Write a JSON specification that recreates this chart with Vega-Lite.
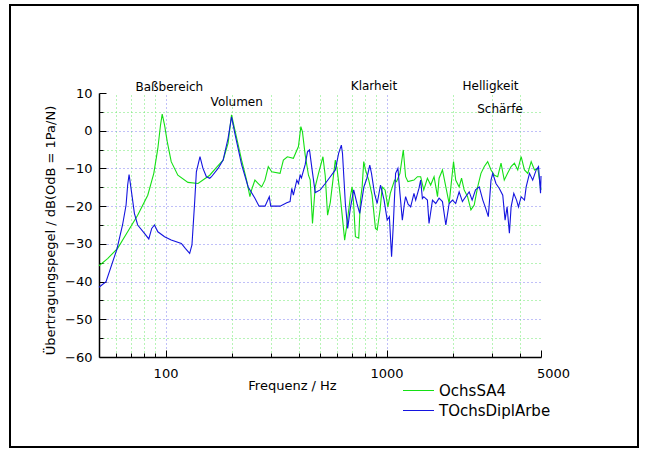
{
  "$schema": "https://vega.github.io/schema/vega-lite/v6.json",
  "width": 628,
  "height": 442,
  "autosize": {"type": "none"},
  "padding": {"left": 10, "top": 5, "right": 8, "bottom": 3},
  "background": "white",
  "config": {
    "view": {"stroke": "black", "strokeWidth": 2},
    "font": "DejaVu Sans",
    "axis": {"labelFont": "DejaVu Sans", "titleFont": "DejaVu Sans", "labelColor": "black", "titleColor": "black", "titleFontWeight": "normal", "domainColor": "black", "tickColor": "black"}
  },
  "datasets": {
    "curves": [
      {"f":50,"db":-35.8,"s":"OchsSA4"},{"f":54.7,"db":-33.9,"s":"OchsSA4"},{"f":60.7,"db":-31.2,"s":"OchsSA4"},{"f":67.4,"db":-26.8,"s":"OchsSA4"},{"f":74.8,"db":-22.4,"s":"OchsSA4"},{"f":83.1,"db":-17.1,"s":"OchsSA4"},{"f":88.5,"db":-11.3,"s":"OchsSA4"},{"f":92.3,"db":-4.7,"s":"OchsSA4"},{"f":94.9,"db":1.5,"s":"OchsSA4"},{"f":96.6,"db":4.4,"s":"OchsSA4"},{"f":99,"db":1.5,"s":"OchsSA4"},{"f":101.8,"db":-2.9,"s":"OchsSA4"},{"f":106.1,"db":-8.2,"s":"OchsSA4"},{"f":113.7,"db":-11.8,"s":"OchsSA4"},{"f":126.3,"db":-13.7,"s":"OchsSA4"},{"f":140.3,"db":-14.0,"s":"OchsSA4"},{"f":158.5,"db":-11.8,"s":"OchsSA4"},{"f":170.1,"db":-9.7,"s":"OchsSA4"},{"f":182.2,"db":-7.8,"s":"OchsSA4"},{"f":191.9,"db":-3.3,"s":"OchsSA4"},{"f":198.9,"db":4.2,"s":"OchsSA4"},{"f":205.9,"db":0.2,"s":"OchsSA4"},{"f":220.9,"db":-7.8,"s":"OchsSA4"},{"f":232.7,"db":-13.1,"s":"OchsSA4"},{"f":240.9,"db":-17.5,"s":"OchsSA4"},{"f":245.2,"db":-15.7,"s":"OchsSA4"},{"f":249.4,"db":-14.4,"s":"OchsSA4"},{"f":253.8,"db":-13.1,"s":"OchsSA4"},{"f":262.8,"db":-14.0,"s":"OchsSA4"},{"f":272.3,"db":-14.9,"s":"OchsSA4"},{"f":281.8,"db":-13.1,"s":"OchsSA4"},{"f":291.7,"db":-9.5,"s":"OchsSA4"},{"f":302.4,"db":-10.9,"s":"OchsSA4"},{"f":329.8,"db":-11.3,"s":"OchsSA4"},{"f":341.4,"db":-7.8,"s":"OchsSA4"},{"f":355.9,"db":-6.9,"s":"OchsSA4"},{"f":378.9,"db":-7.3,"s":"OchsSA4"},{"f":399.4,"db":-4.2,"s":"OchsSA4"},{"f":409.6,"db":1.1,"s":"OchsSA4"},{"f":416.5,"db":-0.3,"s":"OchsSA4"},{"f":428.4,"db":-6.4,"s":"OchsSA4"},{"f":443.5,"db":-11.8,"s":"OchsSA4"},{"f":451.4,"db":-13,"s":"OchsSA4"},{"f":462.4,"db":-24.6,"s":"OchsSA4"},{"f":475.7,"db":-14.9,"s":"OchsSA4"},{"f":492.4,"db":-11.3,"s":"OchsSA4"},{"f":515.6,"db":-6.9,"s":"OchsSA4"},{"f":528.1,"db":-12,"s":"OchsSA4"},{"f":541.1,"db":-22.4,"s":"OchsSA4"},{"f":556.6,"db":-19,"s":"OchsSA4"},{"f":586.5,"db":-7.8,"s":"OchsSA4"},{"f":597,"db":-10,"s":"OchsSA4"},{"f":618,"db":-17.5,"s":"OchsSA4"},{"f":639.6,"db":-26.3,"s":"OchsSA4"},{"f":646.4,"db":-29,"s":"OchsSA4"},{"f":662.9,"db":-24.6,"s":"OchsSA4"},{"f":686,"db":-17.5,"s":"OchsSA4"},{"f":698.5,"db":-14.9,"s":"OchsSA4"},{"f":710,"db":-19.5,"s":"OchsSA4"},{"f":723.1,"db":-28.1,"s":"OchsSA4"},{"f":748.5,"db":-28.5,"s":"OchsSA4"},{"f":761.9,"db":-18.4,"s":"OchsSA4"},{"f":775.5,"db":-14.9,"s":"OchsSA4"},{"f":788.7,"db":-8.2,"s":"OchsSA4"},{"f":803,"db":-10.4,"s":"OchsSA4"},{"f":831,"db":-13.1,"s":"OchsSA4"},{"f":860,"db":-17,"s":"OchsSA4"},{"f":891,"db":-25.9,"s":"OchsSA4"},{"f":907.3,"db":-26.3,"s":"OchsSA4"},{"f":935,"db":-21,"s":"OchsSA4"},{"f":956.1,"db":-14.9,"s":"OchsSA4"},{"f":985,"db":-15.7,"s":"OchsSA4"},{"f":1014,"db":-20.2,"s":"OchsSA4"},{"f":1040,"db":-16.6,"s":"OchsSA4"},{"f":1087,"db":-13.1,"s":"OchsSA4"},{"f":1110,"db":-13.5,"s":"OchsSA4"},{"f":1150,"db":-11.3,"s":"OchsSA4"},{"f":1191,"db":-5.1,"s":"OchsSA4"},{"f":1220,"db":-12.2,"s":"OchsSA4"},{"f":1250,"db":-13.5,"s":"OchsSA4"},{"f":1331,"db":-13.1,"s":"OchsSA4"},{"f":1380,"db":-12.2,"s":"OchsSA4"},{"f":1427,"db":-12.2,"s":"OchsSA4"},{"f":1474,"db":-15.7,"s":"OchsSA4"},{"f":1531,"db":-12.6,"s":"OchsSA4"},{"f":1584,"db":-14.4,"s":"OchsSA4"},{"f":1641,"db":-12.2,"s":"OchsSA4"},{"f":1701,"db":-17.5,"s":"OchsSA4"},{"f":1729,"db":-12.6,"s":"OchsSA4"},{"f":1791,"db":-10.4,"s":"OchsSA4"},{"f":1855,"db":-14.9,"s":"OchsSA4"},{"f":1920,"db":-19.3,"s":"OchsSA4"},{"f":2010,"db":-8.2,"s":"OchsSA4"},{"f":2056,"db":-13.1,"s":"OchsSA4"},{"f":2131,"db":-14.9,"s":"OchsSA4"},{"f":2185,"db":-12.6,"s":"OchsSA4"},{"f":2245,"db":-15.7,"s":"OchsSA4"},{"f":2327,"db":-17.5,"s":"OchsSA4"},{"f":2409,"db":-21,"s":"OchsSA4"},{"f":2493,"db":-19.7,"s":"OchsSA4"},{"f":2585,"db":-14.9,"s":"OchsSA4"},{"f":2675,"db":-11.3,"s":"OchsSA4"},{"f":2770,"db":-9.5,"s":"OchsSA4"},{"f":2869,"db":-8.2,"s":"OchsSA4"},{"f":2970,"db":-10.4,"s":"OchsSA4"},{"f":3077,"db":-11.8,"s":"OchsSA4"},{"f":3185,"db":-12.2,"s":"OchsSA4"},{"f":3297,"db":-8.6,"s":"OchsSA4"},{"f":3410,"db":-13.1,"s":"OchsSA4"},{"f":3530,"db":-11.3,"s":"OchsSA4"},{"f":3662,"db":-9.5,"s":"OchsSA4"},{"f":3790,"db":-8.6,"s":"OchsSA4"},{"f":3925,"db":-10.4,"s":"OchsSA4"},{"f":4066,"db":-6.9,"s":"OchsSA4"},{"f":4209,"db":-10.4,"s":"OchsSA4"},{"f":4357,"db":-11.3,"s":"OchsSA4"},{"f":4514,"db":-8.2,"s":"OchsSA4"},{"f":4672,"db":-10.4,"s":"OchsSA4"},{"f":4836,"db":-10,"s":"OchsSA4"},{"f":5000,"db":-15.7,"s":"OchsSA4"},
      {"f":50,"db":-41.5,"s":"TOchsDiplArbe"},{"f":53.8,"db":-40,"s":"TOchsDiplArbe"},{"f":60.2,"db":-31.5,"s":"TOchsDiplArbe"},{"f":63.9,"db":-25,"s":"TOchsDiplArbe"},{"f":66.3,"db":-19.7,"s":"TOchsDiplArbe"},{"f":67.4,"db":-14.4,"s":"TOchsDiplArbe"},{"f":68.4,"db":-11.6,"s":"TOchsDiplArbe"},{"f":69.8,"db":-15.3,"s":"TOchsDiplArbe"},{"f":72.3,"db":-21.9,"s":"TOchsDiplArbe"},{"f":74.8,"db":-25,"s":"TOchsDiplArbe"},{"f":80.3,"db":-27.2,"s":"TOchsDiplArbe"},{"f":84,"db":-28.7,"s":"TOchsDiplArbe"},{"f":86.6,"db":-25.9,"s":"TOchsDiplArbe"},{"f":89.1,"db":-25,"s":"TOchsDiplArbe"},{"f":92.3,"db":-26.8,"s":"TOchsDiplArbe"},{"f":99,"db":-28.1,"s":"TOchsDiplArbe"},{"f":106.1,"db":-29,"s":"TOchsDiplArbe"},{"f":117.9,"db":-29.9,"s":"TOchsDiplArbe"},{"f":122.9,"db":-31.2,"s":"TOchsDiplArbe"},{"f":128.6,"db":-32.5,"s":"TOchsDiplArbe"},{"f":131.7,"db":-30.3,"s":"TOchsDiplArbe"},{"f":135.5,"db":-18.8,"s":"TOchsDiplArbe"},{"f":137.9,"db":-10.9,"s":"TOchsDiplArbe"},{"f":143.2,"db":-6.9,"s":"TOchsDiplArbe"},{"f":147.7,"db":-10,"s":"TOchsDiplArbe"},{"f":153.1,"db":-12.2,"s":"TOchsDiplArbe"},{"f":158.5,"db":-12.6,"s":"TOchsDiplArbe"},{"f":161.4,"db":-12.2,"s":"TOchsDiplArbe"},{"f":172.9,"db":-10,"s":"TOchsDiplArbe"},{"f":182.2,"db":-7.8,"s":"TOchsDiplArbe"},{"f":191.9,"db":-2,"s":"TOchsDiplArbe"},{"f":198.9,"db":3.7,"s":"TOchsDiplArbe"},{"f":205.9,"db":-0.7,"s":"TOchsDiplArbe"},{"f":220.9,"db":-9,"s":"TOchsDiplArbe"},{"f":236.6,"db":-14.9,"s":"TOchsDiplArbe"},{"f":253.8,"db":-17.9,"s":"TOchsDiplArbe"},{"f":265,"db":-20,"s":"TOchsDiplArbe"},{"f":282,"db":-20,"s":"TOchsDiplArbe"},{"f":294.8,"db":-17.5,"s":"TOchsDiplArbe"},{"f":299.2,"db":-20,"s":"TOchsDiplArbe"},{"f":329.8,"db":-20,"s":"TOchsDiplArbe"},{"f":353.7,"db":-19.1,"s":"TOchsDiplArbe"},{"f":366.1,"db":-18.8,"s":"TOchsDiplArbe"},{"f":372.7,"db":-15.3,"s":"TOchsDiplArbe"},{"f":378.9,"db":-17.1,"s":"TOchsDiplArbe"},{"f":392.7,"db":-13.1,"s":"TOchsDiplArbe"},{"f":399.4,"db":-14,"s":"TOchsDiplArbe"},{"f":406.6,"db":-11.8,"s":"TOchsDiplArbe"},{"f":412,"db":-12.5,"s":"TOchsDiplArbe"},{"f":428.4,"db":-9,"s":"TOchsDiplArbe"},{"f":438.9,"db":-5.6,"s":"TOchsDiplArbe"},{"f":448.2,"db":-5.1,"s":"TOchsDiplArbe"},{"f":459.6,"db":-10,"s":"TOchsDiplArbe"},{"f":475.7,"db":-16.4,"s":"TOchsDiplArbe"},{"f":501.2,"db":-15.7,"s":"TOchsDiplArbe"},{"f":528.1,"db":-14,"s":"TOchsDiplArbe"},{"f":556.6,"db":-12.2,"s":"TOchsDiplArbe"},{"f":586.5,"db":-10.4,"s":"TOchsDiplArbe"},{"f":607.1,"db":-6,"s":"TOchsDiplArbe"},{"f":624.5,"db":-3.8,"s":"TOchsDiplArbe"},{"f":632,"db":-6,"s":"TOchsDiplArbe"},{"f":651.1,"db":-19.3,"s":"TOchsDiplArbe"},{"f":667.1,"db":-25.9,"s":"TOchsDiplArbe"},{"f":686.2,"db":-20.5,"s":"TOchsDiplArbe"},{"f":710.3,"db":-15.7,"s":"TOchsDiplArbe"},{"f":735,"db":-19.3,"s":"TOchsDiplArbe"},{"f":756.3,"db":-21.9,"s":"TOchsDiplArbe"},{"f":790,"db":-14.9,"s":"TOchsDiplArbe"},{"f":815,"db":-12.6,"s":"TOchsDiplArbe"},{"f":839.8,"db":-9.1,"s":"TOchsDiplArbe"},{"f":855,"db":-11.3,"s":"TOchsDiplArbe"},{"f":882.2,"db":-16.6,"s":"TOchsDiplArbe"},{"f":907,"db":-19.3,"s":"TOchsDiplArbe"},{"f":939.2,"db":-14.4,"s":"TOchsDiplArbe"},{"f":975,"db":-18.4,"s":"TOchsDiplArbe"},{"f":1007,"db":-23.7,"s":"TOchsDiplArbe"},{"f":1030,"db":-22.8,"s":"TOchsDiplArbe"},{"f":1054,"db":-33.4,"s":"TOchsDiplArbe"},{"f":1072,"db":-25.5,"s":"TOchsDiplArbe"},{"f":1099,"db":-11.3,"s":"TOchsDiplArbe"},{"f":1126,"db":-10,"s":"TOchsDiplArbe"},{"f":1150,"db":-16.6,"s":"TOchsDiplArbe"},{"f":1179,"db":-23.7,"s":"TOchsDiplArbe"},{"f":1205,"db":-19.3,"s":"TOchsDiplArbe"},{"f":1220,"db":-17.5,"s":"TOchsDiplArbe"},{"f":1252,"db":-19.5,"s":"TOchsDiplArbe"},{"f":1286,"db":-20.2,"s":"TOchsDiplArbe"},{"f":1331,"db":-16.6,"s":"TOchsDiplArbe"},{"f":1355,"db":-18.4,"s":"TOchsDiplArbe"},{"f":1402,"db":-15.3,"s":"TOchsDiplArbe"},{"f":1427,"db":-13.1,"s":"TOchsDiplArbe"},{"f":1453,"db":-18,"s":"TOchsDiplArbe"},{"f":1474,"db":-17.5,"s":"TOchsDiplArbe"},{"f":1531,"db":-18.4,"s":"TOchsDiplArbe"},{"f":1557,"db":-24.6,"s":"TOchsDiplArbe"},{"f":1614,"db":-18.4,"s":"TOchsDiplArbe"},{"f":1670,"db":-19.3,"s":"TOchsDiplArbe"},{"f":1729,"db":-17.9,"s":"TOchsDiplArbe"},{"f":1791,"db":-18.8,"s":"TOchsDiplArbe"},{"f":1855,"db":-25,"s":"TOchsDiplArbe"},{"f":1920,"db":-19.3,"s":"TOchsDiplArbe"},{"f":1989,"db":-18.4,"s":"TOchsDiplArbe"},{"f":2056,"db":-19.3,"s":"TOchsDiplArbe"},{"f":2131,"db":-16.2,"s":"TOchsDiplArbe"},{"f":2205,"db":-18.8,"s":"TOchsDiplArbe"},{"f":2280,"db":-17.5,"s":"TOchsDiplArbe"},{"f":2366,"db":-16.2,"s":"TOchsDiplArbe"},{"f":2440,"db":-18.4,"s":"TOchsDiplArbe"},{"f":2528,"db":-15.7,"s":"TOchsDiplArbe"},{"f":2628,"db":-14.9,"s":"TOchsDiplArbe"},{"f":2727,"db":-18.4,"s":"TOchsDiplArbe"},{"f":2796,"db":-20.2,"s":"TOchsDiplArbe"},{"f":2888,"db":-22.8,"s":"TOchsDiplArbe"},{"f":2970,"db":-13.1,"s":"TOchsDiplArbe"},{"f":3024,"db":-11.3,"s":"TOchsDiplArbe"},{"f":3127,"db":-14,"s":"TOchsDiplArbe"},{"f":3239,"db":-15.3,"s":"TOchsDiplArbe"},{"f":3357,"db":-17.1,"s":"TOchsDiplArbe"},{"f":3439,"db":-23.7,"s":"TOchsDiplArbe"},{"f":3512,"db":-20.2,"s":"TOchsDiplArbe"},{"f":3597,"db":-27.2,"s":"TOchsDiplArbe"},{"f":3662,"db":-20.2,"s":"TOchsDiplArbe"},{"f":3766,"db":-16.6,"s":"TOchsDiplArbe"},{"f":3876,"db":-18.4,"s":"TOchsDiplArbe"},{"f":3953,"db":-20.2,"s":"TOchsDiplArbe"},{"f":4066,"db":-17.5,"s":"TOchsDiplArbe"},{"f":4209,"db":-18.4,"s":"TOchsDiplArbe"},{"f":4284,"db":-14.9,"s":"TOchsDiplArbe"},{"f":4435,"db":-11.3,"s":"TOchsDiplArbe"},{"f":4585,"db":-13.1,"s":"TOchsDiplArbe"},{"f":4756,"db":-10.4,"s":"TOchsDiplArbe"},{"f":4873,"db":-9.5,"s":"TOchsDiplArbe"},{"f":4976,"db":-16.6,"s":"TOchsDiplArbe"},{"f":5000,"db":-12,"s":"TOchsDiplArbe"}
    ],
    "labels": [
      {"f":104,"db":11.7,"t":"Baßbereich"},
      {"f":210,"db":7.6,"t":"Volumen"},
      {"f":877,"db":11.9,"t":"Klarheit"},
      {"f":2954,"db":11.9,"t":"Helligkeit"},
      {"f":3263,"db":5.8,"t":"Schärfe"}
    ]
  },
  "layer": [
    {
      "data": {"name": "curves"},
      "mark": {"type": "line", "strokeWidth": 1.1, "interpolate": "linear"},
      "encoding": {
        "x": {"field": "f", "type": "quantitative",
          "scale": {"type": "log", "domain": [50, 5000], "range": [89, 531], "nice": false},
          "axis": {"orient": "bottom", "offset": -90, "values": [60,70,80,90,200,300,400,500,600,700,800,900,2000,3000,4000], "labels": false, "title": null, "domain": false, "ticks": true, "tickSize": -4, "grid": true, "gridColor": "#6fe86f", "gridDash": [1,3]}},
        "y": {"field": "db", "type": "quantitative",
          "scale": {"domain": [-60, 10], "range": [352, 88], "nice": false, "zero": false},
          "axis": {"orient": "left", "offset": -89, "values": [-55,-45,-35,-25,-15,-5,5], "labels": false, "title": null, "domain": false, "ticks": true, "tickSize": -4, "grid": true, "gridColor": "#6fe86f", "gridDash": [1,3]}},
        "color": {"field": "s", "type": "nominal",
          "scale": {"domain": ["OchsSA4", "TOchsDiplArbe"], "range": ["#14e014", "#1414e0"]},
          "legend": {"orient": "none", "legendX": 400, "legendY": 377, "title": null, "padding": 0, "symbolType": "M-2,0H2", "symbolSize": 240, "symbolStrokeWidth": 1, "labelFont": "DejaVu Sans", "labelFontSize": 15, "labelColor": "black", "labelOffset": 12, "rowPadding": 3}}
      }
    },
    {
      "data": {"name": "labels"},
      "mark": {"type": "text", "font": "DejaVu Sans", "fontSize": 12, "align": "center", "baseline": "middle", "color": "black"},
      "encoding": {
        "x": {"field": "f", "type": "quantitative",
          "axis": {"orient": "bottom", "offset": -90, "values": [100, 1000, 5000], "format": "d", "labelFlush": false,
            "labelOffset": {"condition": {"test": "datum.value == 5000", "value": 12}, "value": 0},
            "tickSize": -7, "domainWidth": 1.5, "labelFontSize": 13, "labelPadding": 17,
            "grid": true, "gridColor": "#8080f0", "gridDash": [1,3],
            "gridOpacity": {"condition": {"test": "datum.value == 5000", "value": 0}, "value": 1},
            "title": "Frequenz / Hz", "titleFontSize": 13, "titleX": 282, "titleY": 28, "titleBaseline": "middle"}},
        "y": {"field": "db", "type": "quantitative",
          "axis": {"orient": "left", "offset": -89, "values": [-60,-50,-40,-30,-20,-10,0,10],
            "tickSize": -7, "domainWidth": 1.5, "labelFontSize": 13, "labelPadding": 14,
            "grid": true, "gridColor": "#8080f0", "gridDash": [1,3],
            "gridOpacity": {"condition": {"test": "datum.value == 10 || datum.value == -60", "value": 0}, "value": 1},
            "title": "Übertragungspegel / dB(OdB = 1Pa/N)", "titleFontSize": 13, "titleX": -49, "titleY": 225, "titleBaseline": "middle"}},
        "text": {"field": "t", "type": "nominal"}
      }
    }
  ],
  "resolve": {"axis": {"x": "independent", "y": "independent"}}
}
